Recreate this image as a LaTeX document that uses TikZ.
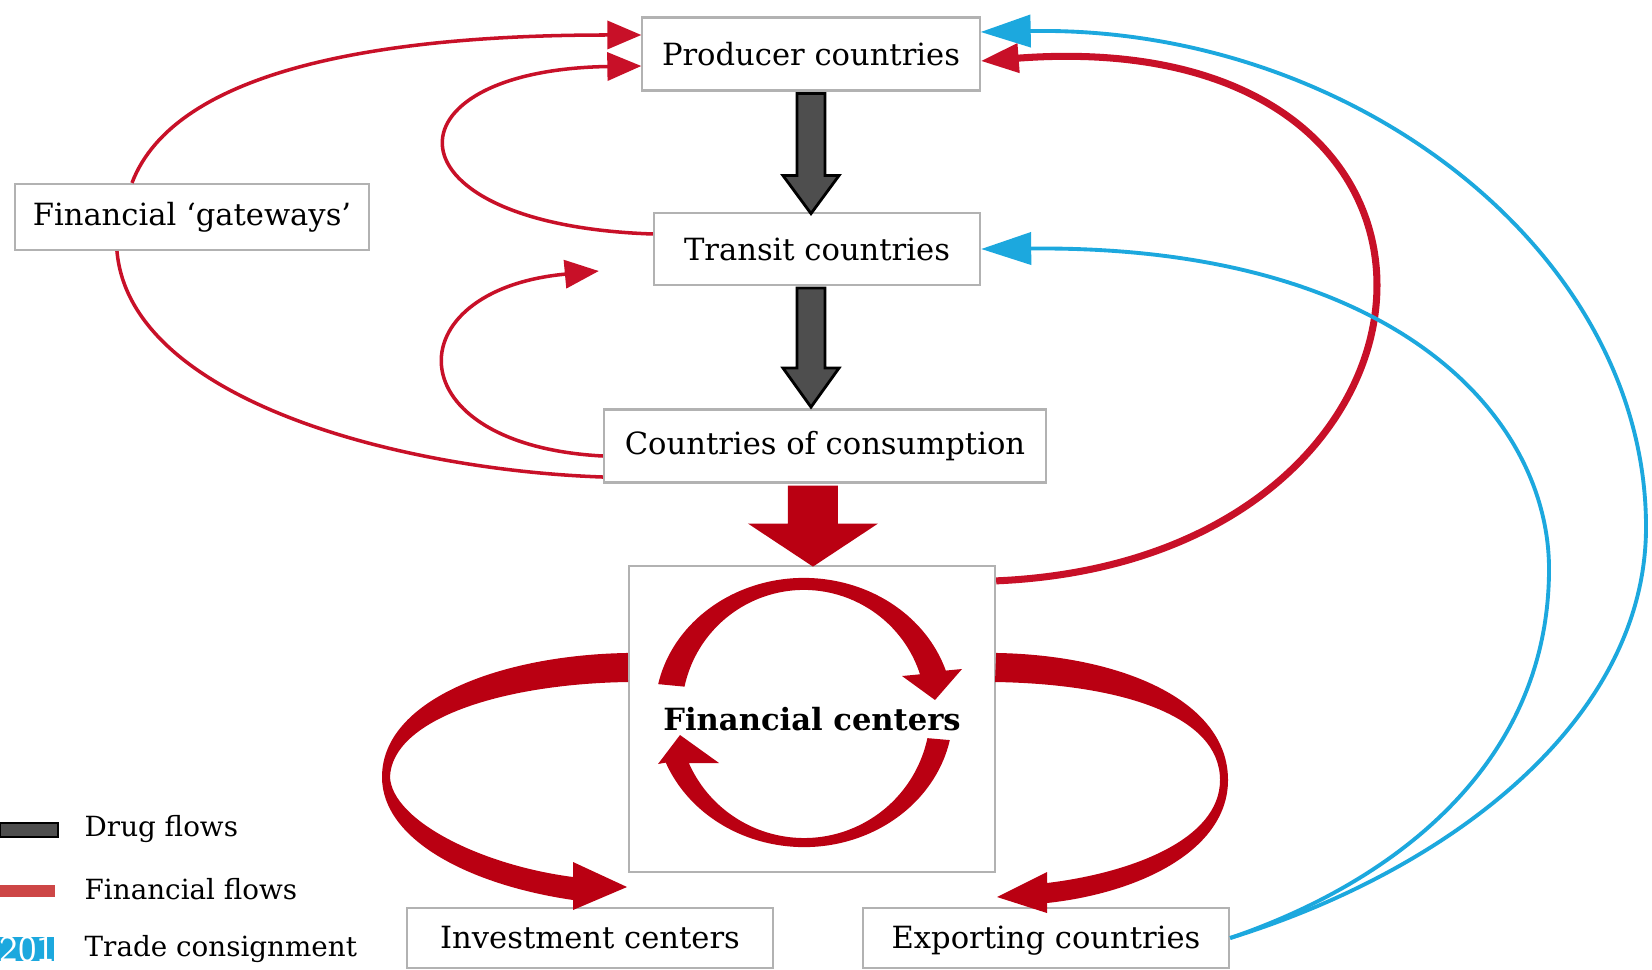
\documentclass[tikz,border=0pt]{standalone}
\usepackage{fontspec}
\setmainfont{DejaVu Serif}
\usepackage{xcolor}
\usetikzlibrary{arrows.meta}
\definecolor{finred}{RGB}{186,0,18}
\definecolor{flowred}{RGB}{200,16,40}
\definecolor{legred}{RGB}{205,70,70}
\definecolor{tradeblue}{RGB}{28,168,222}
\definecolor{druggray}{RGB}{78,78,78}

\begin{document}
\begin{tikzpicture}[x=0.01cm, y=-0.01cm,
  box/.style={draw=black!30, fill=white, line width=0.6pt, inner sep=0pt, font=\fontsize{8.7}{10}\selectfont},
  finflow/.style={draw=flowred, line width=1pt, -{Triangle[length=3.4mm,width=2.8mm]}},
  tradeflow/.style={draw=tradeblue, line width=1.1pt, -{Triangle[length=5mm,width=3.2mm]}},
  drug/.style={fill=druggray, draw=black, line width=0.8pt},
  legend/.style={anchor=west, inner sep=0pt, font=\fontsize{7.9}{9}\selectfont}]
\fill[white] (0,0) rectangle (1652,970);
\useasboundingbox (0,0) rectangle (1652,970);

% Boxes
\node[box, minimum width=33.7mm, minimum height=7.3mm] (prod) at (811,54) {Producer countries};
\node[box, minimum width=32.6mm, minimum height=7.2mm] (trans) at (817,249) {Transit countries};
\node[box, minimum width=44.2mm, minimum height=7.3mm] (cons) at (825,446) {Countries of consumption};
\node[box, minimum width=35.4mm, minimum height=6.6mm] (gate) at (192,217) {Financial ‘gateways’};
\node[box, minimum width=36.6mm, minimum height=30.6mm, font=\fontsize{8.7}{10}\selectfont\bfseries] (fin) at (812,719) {Financial centers};
\node[box, minimum width=36.5mm, minimum height=6mm, text depth=0.2mm] (inv) at (590,938) {Investment centers};
\node[box, minimum width=36.6mm, minimum height=6mm, text depth=0.2mm] (exp) at (1046,938) {Exporting countries};

% Drug flows
\filldraw[drug] ([xshift=-1.4mm,yshift=-0.2mm]prod.south) -- ++(0,82) -- ++(-14,0) -- ++(28,38) -- ++(28,-38) -- ++(-14,0) -- ++(0,-82) -- cycle;
\filldraw[drug] ([xshift=-2mm,yshift=-0.2mm]trans.south) -- ++(0,80) -- ++(-14,0) -- ++(28,39) -- ++(28,-39) -- ++(-14,0) -- ++(0,-80) -- cycle;

% Money into the financial centers
\fill[finred] ([xshift=-3.7mm,yshift=-0.2mm]cons.south) -- ++(0,38) -- ++(-40,0) -- ++(65,43) -- ++(65,-43) -- ++(-40,0) -- ++(0,-38) -- cycle;

% Left-hand flows
\draw[finflow] ([xshift=-6mm]gate.north) .. controls (175,70) and (380,35) .. ([yshift=1.9mm]prod.west);
\draw[finflow, -] ([xshift=-7.5mm]gate.south) .. controls (130,400) and (400,470) .. ([yshift=-3.1mm]cons.west);
\draw[finflow] ([yshift=1.5mm]trans.west) .. controls (380,225) and (380,70) .. ([yshift=-1.2mm]prod.west);
\draw[finflow] ([yshift=-1mm]cons.west) .. controls (394,445) and (394,290) .. ([xshift=-5.4mm,yshift=-2.2mm]trans.west);

% Back to the producers
\draw[finflow, line width=2pt, -{Triangle[length=3.8mm,width=2.8mm]}] ([yshift=-1.6mm]fin.north east) .. controls (1480,560) and (1520,20) .. ([yshift=-0.7mm]prod.east);

% Trade consignment
\draw[tradeflow] (exp.east) .. controls (1450,870) and (1646,720) .. (1646,527) .. controls (1646,250) and (1350,25) .. ([yshift=2.2mm]prod.east);
\draw[tradeflow] (exp.east) .. controls (1400,880) and (1549,760) .. (1549,569) .. controls (1549,420) and (1400,245) .. (trans.east);

% Circulation inside the financial centers
\fill[finred] (804,712) ++(168:14.9mm and 13.4mm) arc[start angle=168, end angle=18, x radius=14.9mm, y radius=13.4mm]
  -- (962,669) -- (935,700) -- (902,676) -- (920,674.3)
  arc[start angle=18, end angle=168, x radius=12.2mm, y radius=12.2mm] -- cycle;
\fill[finred] (804,712) ++(-12:14.9mm and 13.5mm) arc[start angle=-12, end angle=-158, x radius=14.9mm, y radius=13.5mm]
  -- (658,764) -- (680,735) -- (719,763) -- (688.9,763.2)
  arc[start angle=-156, end angle=-12, x radius=12.6mm, y radius=12.6mm] -- cycle;

% Out to investment centers and exporting countries
\fill[finred] ([yshift=6.6mm]fin.west) .. controls (500,655) and (382,700) .. (382,777) .. controls (382,840) and (470,885) .. (573,900) -- (573,910) -- (627,887) -- (573,862) -- (573,877) .. controls (480,865) and (392,820) .. (390,777) .. controls (392,720) and (500,684) .. (628,682) -- cycle;
\fill[finred] ([yshift=6.6mm]fin.east) .. controls (1120,655) and (1228,700) .. (1228,780) .. controls (1228,850) and (1140,893) .. (1047,903) -- (1047,913) -- (997,897) -- (1047,872) -- (1047,883) .. controls (1130,873) and (1220,840) .. (1220,780) .. controls (1220,715) and (1120,684) .. (995,682) -- cycle;

% Legend
\filldraw[drug] (0,823) rectangle (58,837);
\node[legend] (legdrug) at (84,829) {Drug flows};
\fill[legred] (0,885) rectangle (55,897);
\node[legend] (legfin) at (84,889) {Financial flows};
\fill[tradeblue] (0,937) rectangle (54,961);
\node[anchor=west, inner sep=0pt, text=white, font=\sffamily\fontsize{10.5}{12}\selectfont] (year) at (-1,949) {2015};
\node[legend] (legtrade) at (84,949) {Trade consignment};
\end{tikzpicture}
\end{document}
